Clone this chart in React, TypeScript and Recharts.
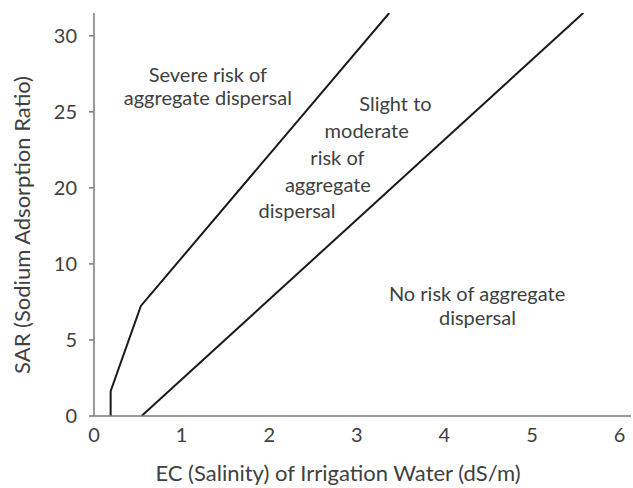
import React from "react";
import {
  LineChart,
  Line,
  XAxis,
  YAxis,
  ReferenceDot,
  Customized,
} from "recharts";

// X axis: EC (dS/m)
const xTicks = [0, 1, 2, 3, 4, 5, 6];
// Y axis: tick positions (evenly spaced) and the labels printed at them
const yTickPositions = [0, 5, 10, 15, 20, 25];
const yTickLabels = ["0", "5", "10", "20", "25", "30"];

// Boundary lines (y in the axis' drawn units)
const severeBoundary = [
  { x: 0.19, y: 0 },
  { x: 0.19, y: 1.64 },
  { x: 0.535, y: 7.24 },
  { x: 3.37, y: 26.5 },
];
const slightBoundary = [
  { x: 0.543, y: 0 },
  { x: 5.585, y: 26.5 },
];

// Region annotations (one entry per text line; x,y = baseline centre in data units)
const annotationTexts = [
  "Severe risk of",
  "aggregate dispersal",
  "Slight to",
  "moderate",
  "risk of",
  "aggregate",
  "dispersal",
  "No risk of aggregate",
  "dispersal",
];
const annotationX = [1.3, 1.3, 3.441, 3.113, 2.779, 2.67, 2.318, 4.373, 4.377];
const annotationY = [21.97, 20.44, 20.07, 18.25, 16.49, 14.74, 12.99, 7.57, 5.97];

const xDomain = [0, 6.13];
const yDomain = [0, 26.5];

const FONT = "Lato, 'Open Sans', sans-serif";
const TEXT = "#404040";
const FRAME = "#7a7a7a";
const FS = 20;
const TITLE_FS = 22;

const W = 633;
const H = 488;

export default function App() {
  return (
    <div style={{ position: "absolute", left: 0, top: 0, background: "#fff" }}>
      <LineChart
        width={W}
        height={H}
        margin={{ top: 13, right: 2, left: 0, bottom: 0 }}
        style={{ fontFamily: FONT }}
      >
        <XAxis
          xAxisId="top"
          orientation="top"
          type="number"
          dataKey="x"
          domain={xDomain}
          allowDataOverflow
          tick={false}
          tickLine={false}
          height={0}
          axisLine={{ stroke: FRAME, strokeWidth: 1.5 }}
        />
        <YAxis
          yAxisId="right"
          orientation="right"
          type="number"
          domain={yDomain}
          allowDataOverflow
          tick={false}
          tickLine={false}
          width={0}
          axisLine={{ stroke: FRAME, strokeWidth: 1.5 }}
        />
        <XAxis
          type="number"
          dataKey="x"
          domain={xDomain}
          allowDataOverflow
          ticks={xTicks}
          interval={0}
          tickLine={false}
          tickSize={0}
          tickMargin={12}
          height={72}
          axisLine={{ stroke: FRAME, strokeWidth: 1.5 }}
          tick={{ fill: TEXT, fontSize: FS, fontFamily: FONT }}
        />
        <YAxis
          type="number"
          dataKey="y"
          domain={yDomain}
          allowDataOverflow
          ticks={yTickPositions}
          interval={0}
          tickFormatter={(v: number) => yTickLabels[yTickPositions.indexOf(v)] ?? ""}
          tickSize={5}
          tickMargin={12}
          width={94}
          tickLine={{ stroke: FRAME, strokeWidth: 1.5 }}
          axisLine={{ stroke: FRAME, strokeWidth: 1.5 }}
          tick={{ fill: TEXT, fontSize: FS, fontFamily: FONT }}
        />
        <Line
          data={severeBoundary}
          dataKey="y"
          type="linear"
          stroke="#1a1a1a"
          strokeWidth={2}
          dot={false}
          activeDot={false}
          isAnimationActive={false}
        />
        <Line
          data={slightBoundary}
          dataKey="y"
          type="linear"
          stroke="#1a1a1a"
          strokeWidth={2}
          dot={false}
          activeDot={false}
          isAnimationActive={false}
        />
        {annotationTexts.map((t, i) => (
          <ReferenceDot
            key={i}
            x={annotationX[i]}
            y={annotationY[i]}
            r={0}
            ifOverflow="visible"
            shape={(p: any) => (
              <text
                x={p.cx}
                y={p.cy}
                textAnchor="middle"
                fill={TEXT}
                fontSize={FS}
                fontFamily={FONT}
              >
                {t}
              </text>
            )}
          />
        ))}
        <Customized
          component={() => (
            <g>
              <text
                x={338}
                y={481}
                textAnchor="middle"
                fill={TEXT}
                fontSize={TITLE_FS}
                fontFamily={FONT}
              >
                EC (Salinity) of Irrigation Water (dS/m)
              </text>
              <text
                transform="translate(30,225) rotate(-90)"
                textAnchor="middle"
                fill={TEXT}
                fontSize={TITLE_FS}
                fontFamily={FONT}
              >
                SAR (Sodium Adsorption Ratio)
              </text>
            </g>
          )}
        />
      </LineChart>
    </div>
  );
}
